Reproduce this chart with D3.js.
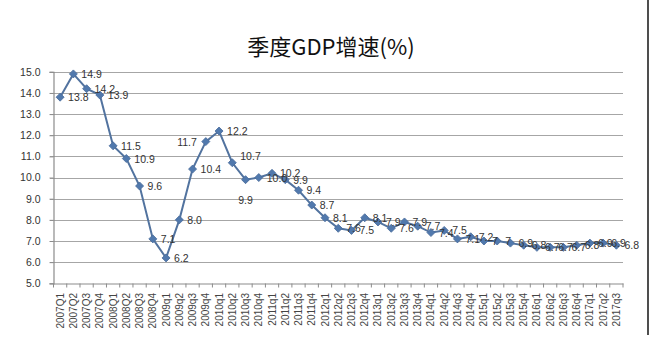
<!DOCTYPE html>
<html><head><meta charset="utf-8">
<script src="https://cdn.jsdelivr.net/npm/d3@7"></script>
<style>html,body{margin:0;padding:0;background:#fff;}svg{display:block;}</style>
</head><body>
<svg id="c" width="668" height="347"></svg>
<script>
const title = "季度GDP增速(%)";
const categories = ["2007Q1","2007Q2","2007Q3","2007Q4","2008Q1","2008Q2","2008Q3","2008Q4",
 "2009q1","2009q2","2009q3","2009q4","2010q1","2010q2","2010q3","2010q4",
 "2011q1","2011q2","2011q3","2011q4","2012q1","2012q2","2012q3","2012q4",
 "2013q1","2013q2","2013q3","2013q4","2014q1","2014q2","2014q3","2014q4",
 "2015q1","2015q2","2015q3","2015q4","2016q1","2016q2","2016q3","2016q4",
 "2017q1","2017q2","2017q3"];
const valueText = ["13.8","14.9","14.2","13.9","11.5","10.9","9.6","7.1",
 "6.2","8.0","10.4","11.7","12.2","10.7","9.9","10.0",
 "10.2","9.9","9.4","8.7","8.1","7.6","7.5","8.1",
 "7.9","7.6","7.9","7.7","7.4","7.5","7.1","7.2",
 "7","7","6.9","6.8","6.7","6.7","6.7","6.8",
 "6.9","6.9","6.8"];
const values = valueText.map(Number);
const yTicks = [5,6,7,8,9,10,11,12,13,14,15];

const svg = d3.select("#c");
const x = d3.scaleBand().domain(categories).range([53.5, 623]).padding(0);
const y = d3.scaleLinear().domain([5, 15]).range([283.3, 71.8]);

// title
svg.append("text").attr("x", 331).attr("y", 55).attr("text-anchor", "middle")
  .attr("font-family", "'Noto Sans CJK SC', sans-serif").attr("font-size", 22)
  .attr("fill", "#111").text(title);

// right frame border
svg.append("line").attr("x1", 648).attr("x2", 648).attr("y1", 0).attr("y2", 335)
  .attr("stroke", "#222").attr("stroke-width", 1.6);

// gridlines
svg.append("g").selectAll("line").data(yTicks.filter(d => d > 5)).join("line")
  .attr("x1", 50).attr("x2", 623)
  .attr("y1", d => Math.round(y(d)) + 0.5).attr("y2", d => Math.round(y(d)) + 0.5)
  .attr("stroke", "#a6a6a6").attr("stroke-width", 1.2);

// y axis
const yAxis = svg.append("g").attr("transform", "translate(53.5,0)")
  .call(d3.axisLeft(y).tickValues(yTicks).tickFormat(d3.format(".1f")).tickSize(4).tickPadding(9));
yAxis.select(".domain").attr("stroke", "#8c8c8c").attr("stroke-width", 1.2);
yAxis.selectAll(".tick line").attr("stroke", "#8c8c8c");
yAxis.selectAll("text").attr("font-family", "'Liberation Sans', Arial, sans-serif")
  .attr("font-size", 10.5).attr("fill", "#333");

// x axis
const xAxis = svg.append("g").attr("transform", "translate(0,283.5)")
  .call(d3.axisBottom(x).tickSize(0).tickFormat(""));
xAxis.select(".domain").attr("stroke", "#8c8c8c").attr("stroke-width", 1.2);
xAxis.selectAll(".tick").remove();
const bounds = categories.map(c => x(c)).concat([x(categories[categories.length - 1]) + x.bandwidth()]);
xAxis.append("g").selectAll("line").data(bounds).join("line")
  .attr("x1", d => d).attr("x2", d => d).attr("y1", 0).attr("y2", 4)
  .attr("stroke", "#8c8c8c").attr("stroke-width", 1);
xAxis.append("g").selectAll("text").data(categories).join("text")
  .attr("transform", d => `translate(${x(d) + x.bandwidth() / 2 + 3.5},9.5) rotate(-90)`)
  .attr("text-anchor", "end")
  .attr("font-family", "'Liberation Sans', Arial, sans-serif").attr("font-size", 10)
  .attr("fill", "#444").text(d => d);

// line
const cx = (d, i) => x(categories[i]) + x.bandwidth() / 2;
svg.append("path").datum(values)
  .attr("d", d3.line().x(cx).y(d => y(d)))
  .attr("fill", "none").attr("stroke", "#52739f").attr("stroke-width", 2);

// markers
svg.append("g").selectAll("path").data(values).join("path")
  .attr("transform", (d, i) => `translate(${cx(d, i)},${y(d)}) rotate(45)`)
  .attr("d", d3.symbol().type(d3.symbolSquare).size(32))
  .attr("fill", "#5179ad").attr("stroke", "#4a6d9c").attr("stroke-width", 0.8);

// data labels
const labelPlace = { "2009q4": "left", "2010q3": "below", "2010q2": "aboveRight" };
svg.append("g").selectAll("text").data(values).join("text")
  .attr("x", (d, i) => {
    const p = labelPlace[categories[i]];
    if (p === "left") return cx(d, i) - 9;
    if (p === "below") return cx(d, i);
    return cx(d, i) + 8;
  })
  .attr("y", (d, i) => {
    const p = labelPlace[categories[i]];
    if (p === "below") return y(d) + 24;
    if (p === "aboveRight") return y(d) - 3;
    return y(d) + 4;
  })
  .attr("text-anchor", (d, i) => {
    const p = labelPlace[categories[i]];
    return p === "left" ? "end" : p === "below" ? "middle" : "start";
  })
  .attr("font-family", "'Liberation Sans', Arial, sans-serif").attr("font-size", 10.5)
  .attr("fill", "#333").text((d, i) => valueText[i]);
</script>
</body></html>
